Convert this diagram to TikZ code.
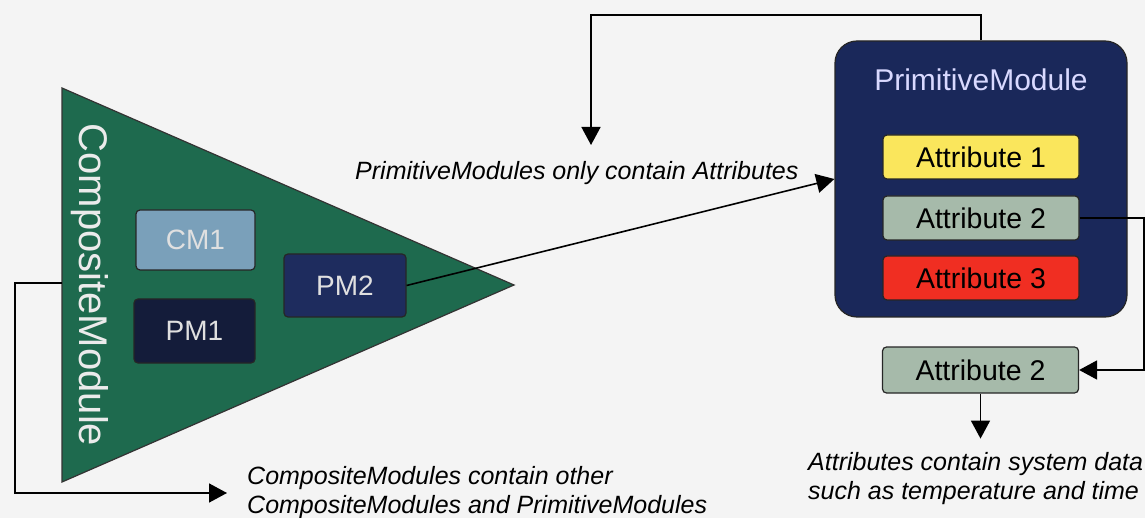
\documentclass[tikz,border=0pt]{standalone}
\usepackage{fontspec}
\setmainfont{Liberation Sans}
\usetikzlibrary{arrows.meta,positioning,calc}

\definecolor{bgc}{RGB}{244,244,244}
\definecolor{cmgreen}{RGB}{30,106,78}
\definecolor{cmblue}{RGB}{122,160,186}
\definecolor{pmdark}{RGB}{20,28,58}
\definecolor{pmnavy}{RGB}{30,44,94}
\definecolor{primnavy}{RGB}{26,40,90}
\definecolor{attyellow}{RGB}{250,230,92}
\definecolor{attgrey}{RGB}{166,186,170}
\definecolor{attred}{RGB}{240,46,34}

\begin{document}
\begin{tikzpicture}[x=1pt, y=-1pt,
    box/.style={draw=black!85, line width=1.2pt, rounded corners=4pt, align=center, inner sep=0pt},
    mod/.style={box, text=white!88!black, font=\fontsize{28}{30}\selectfont},
    attr/.style={box, minimum width=196pt, minimum height=44pt, font=\fontsize{28.5}{30}\selectfont},
    note/.style={inner sep=0pt, align=left, font=\itshape\fontsize{25}{29}\selectfont},
    arr/.style={-{Triangle[length=18pt,width=19pt]}, line width=1.6pt}]

    \fill[bgc] (0,0) rectangle (1145,518);
    \useasboundingbox (0,0) rectangle (1145,518);

    % composite module
    \fill[cmgreen, draw=black!80, line width=1.2pt] (62,88) -- (514,285) -- (62,482) -- cycle;
    \coordinate (cmW) at (62,283);
    \node[rotate=-90, text=white!92!black, font=\fontsize{40}{40}\selectfont] (cmtitle) at (90,285) {CompositeModule};
    \node[mod, fill=cmblue, minimum width=119pt, minimum height=60pt] (cm1) at (195.5,240) {CM1};
    \node[mod, fill=pmdark, minimum width=121pt, minimum height=64pt] (pm1) at (194.5,331) {PM1};
    \node[mod, fill=pmnavy, minimum width=122pt, minimum height=63pt] (pm2) at (345,285.5) {PM2};

    % primitive module
    \node[draw=black!85, line width=1.2pt, fill=primnavy, rounded corners=22pt, minimum width=292pt, minimum height=276pt] (prim) at (981,179) {};
    \node[text=white!85!blue, font=\fontsize{30}{30}\selectfont] (primtitle) at (981,80) {PrimitiveModule};
    \node[attr, fill=attyellow] (attr1) at (981,157) {Attribute 1};
    \node[attr, fill=attgrey] (attr2) at (981,218) {Attribute 2};
    \node[attr, fill=attred] (attr3) at (981,278) {Attribute 3};
    \node[attr, fill=attgrey, minimum height=46pt] (attr2b) at (980.5,370) {Attribute 2};

    % notes
    \node[note, anchor=west] (lblprim) at (355,173) {PrimitiveModules only contain Attributes};
    \node[note, anchor=west] (lblcomp) at (247,493) {CompositeModules contain other\\CompositeModules and PrimitiveModules};
    \node[note, anchor=north west] (lblattr) at (808,452) {Attributes contain system data\\such as temperature and time};

    \coordinate (ptop) at (591,15);
    \coordinate (ptip) at (591,145);
    \coordinate (redge) at (1144,0);

    \draw[arr] (pm2.east) -- (prim.west);
    \draw[arr] (prim.north) |- (ptop) -- (ptip);
    \draw[arr] (cmW) -- ++(-47,0) |- ([xshift=-20pt]lblcomp.west);
    \draw[arr] (attr2.east) -- (attr2.east -| redge) |- (attr2b.east);
    \draw[arr] (attr2b.south) -- ++(0,45);
\end{tikzpicture}
\end{document}
